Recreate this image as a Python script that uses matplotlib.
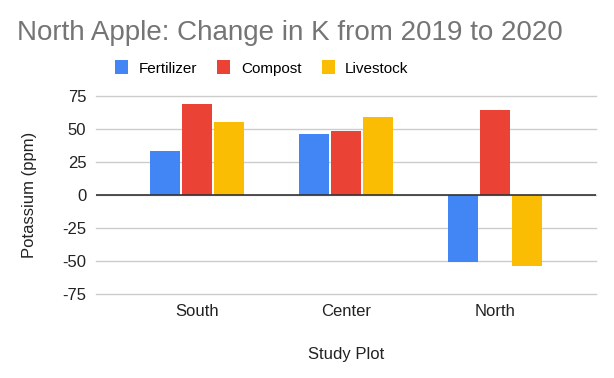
import matplotlib.pyplot as plt
import numpy as np

plt.rcParams['font.family'] = ['Liberation Sans', 'DejaVu Sans']
plt.rcParams['axes.unicode_minus'] = False

plots = ['South', 'Center', 'North']
fertilizer = [33, 46, -51]
compost = [69, 48, 64]
livestock = [55, 59, -54]
series = ['Fertilizer', 'Compost', 'Livestock']
colors = ['#4285F4', '#EA4335', '#FBBC04']

fig = plt.figure(figsize=(6.14, 3.78), dpi=100)
ax = fig.add_axes([96/614, 84/378, 500/614, 198.3/378])

x = np.arange(len(plots))
w = 0.2
step = 0.215
for i, (vals, name, c) in enumerate(zip([fertilizer, compost, livestock], series, colors)):
    ax.bar(x + (i - 1) * step, vals, width=w, color=c, label=name, zorder=3)

ax.set_xlim(-0.68, 2.68)
ax.set_ylim(-75, 75)
ax.set_yticks([-75, -50, -25, 0, 25, 50, 75])
ax.grid(axis='y', color='#cccccc', linewidth=1, zorder=0)
for gl in ax.get_ygridlines():
    gl.set_clip_on(False)
ax.axhline(0, color='#333333', linewidth=1.2, zorder=4)
for s in ax.spines.values():
    s.set_visible(False)
ax.tick_params(length=0, labelsize=12, colors='#222222')
ax.tick_params(axis='y', pad=7)
ax.tick_params(axis='x', pad=7)
ax.set_xticks(x)
ax.set_xticklabels(plots)
ax.set_ylabel('Potassium (ppm)', fontsize=12, color='#222222', labelpad=18)
ax.set_xlabel('Study Plot', fontsize=12, color='#222222', labelpad=20)

fig.text(17/614, 1 - 33/378, 'North Apple: Change in K from 2019 to 2020',
         fontsize=20, color='#757575', ha='left', va='center')

handles, labels = ax.get_legend_handles_labels()
fig.legend(handles, labels, loc='center', bbox_to_anchor=(262/614, 1 - 68/378),
           ncol=3, frameon=False, fontsize=11, handlelength=0.85, handleheight=1.0,
           handletextpad=0.7, columnspacing=1.3)

fig.savefig('out.png', dpi=100)
